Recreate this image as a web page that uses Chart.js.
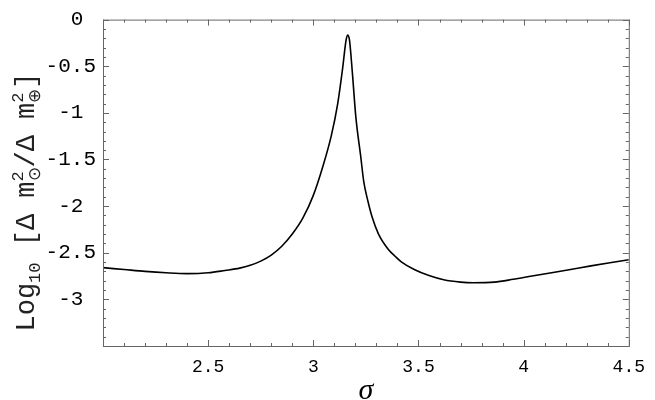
<!DOCTYPE html>
<html>
<head>
<meta charset="utf-8">
<script src="https://cdn.jsdelivr.net/npm/chart.js@4/dist/chart.umd.min.js"></script>
<style>
  html, body { margin: 0; padding: 0; background: #fff; }
  #wrap { width: 655px; height: 400px; }
</style>
</head>
<body>
<div id="wrap"><canvas id="chart" width="655" height="400"></canvas></div>
<script>
'use strict';

/* data */
const sigma = [
  2.00, 2.10, 2.20, 2.30, 2.40, 2.50, 2.58, 2.65, 2.70, 2.75,
  2.80, 2.85, 2.90, 2.95, 3.00, 3.046, 3.085, 3.116, 3.140, 3.155,
  3.163, 3.172, 3.186, 3.202, 3.225, 3.240, 3.260, 3.280, 3.310, 3.357,
  3.390, 3.420, 3.480, 3.550, 3.620, 3.700, 3.760, 3.860, 3.950, 4.040,
  4.140, 4.230, 4.320, 4.410, 4.500
];
const logRatio = [
  -2.66, -2.68, -2.70, -2.715, -2.724, -2.715, -2.69, -2.665, -2.635, -2.59,
  -2.525, -2.43, -2.30, -2.13, -1.885, -1.57, -1.25, -0.90, -0.51, -0.23,
  -0.166, -0.22, -0.58, -1.04, -1.46, -1.74, -1.95, -2.12, -2.30, -2.465,
  -2.54, -2.60, -2.68, -2.745, -2.79, -2.815, -2.822, -2.815, -2.785, -2.75,
  -2.712, -2.677, -2.641, -2.607, -2.575
];
const xTickValues = [2.5, 3, 3.5, 4, 4.5];
const xTickLabels = ['2.5', '3', '3.5', '4', '4.5'];
const yTickValues = [0, -0.5, -1, -1.5, -2, -2.5, -3];
const yTickLabels = ['0 ', '-0.5', '-1 ', '-1.5', '-2 ', '-2.5', '-3 '];

const points = sigma.map((s, i) => ({ x: s, y: logRatio[i] }));

// frame with inside ticks on all four sides
const framePlugin = {
  id: 'frame',
  afterDraw(chart) {
    const { ctx, chartArea: a, scales } = chart;
    const xs = scales.x;
    const ys = scales.y;
    ctx.save();
    ctx.strokeStyle = '#666';
    ctx.lineWidth = 1;
    ctx.strokeRect(a.left + 0.5, a.top + 0.5, a.right - a.left, a.bottom - a.top);
    ctx.beginPath();
    for (let i = 20; i <= 45; i++) {
      const px = Math.round(xs.getPixelForValue(i / 10)) + 0.5;
      const len = i % 5 === 0 ? 6 : 3;
      ctx.moveTo(px, a.bottom);
      ctx.lineTo(px, a.bottom - len);
      ctx.moveTo(px, a.top);
      ctx.lineTo(px, a.top + len);
    }
    for (let i = 0; i <= 35; i++) {
      const py = Math.round(ys.getPixelForValue(-i / 10)) + 0.5;
      const len = i % 5 === 0 ? 6 : 3;
      ctx.moveTo(a.left, py);
      ctx.lineTo(a.left + len, py);
      ctx.moveTo(a.right, py);
      ctx.lineTo(a.right - len, py);
    }
    ctx.stroke();

    // x axis title
    ctx.fillStyle = '#000';
    ctx.font = 'italic 30px "Liberation Serif"';
    ctx.textAlign = 'center';
    ctx.textBaseline = 'alphabetic';
    ctx.fillText('σ', (a.left + a.right) / 2, 399);

    // y axis title, with sub- and superscripts
    ctx.fillStyle = '#222';
    const big = '27px "Liberation Mono"';
    const small = '17px "Liberation Mono"';
    const parts = [
      { t: 'Log', f: big },
      { t: '10', f: small, dy: 6 },
      { t: ' [', f: big },
      { t: 'Δ m', f: big },
      { t: '⊙', f: small, dy: 6, up: '2' },
      { t: '/', f: big },
      { t: 'Δ m', f: big },
      { t: '⊕', f: small, dy: 6, up: '2' },
      { t: ']', f: big }
    ];
    let total = 0;
    parts.forEach((p) => {
      ctx.font = p.f;
      p.w = ctx.measureText(p.t).width;
      if (p.up) p.w = Math.max(p.w, ctx.measureText(p.up).width);
      total += p.w;
    });
    ctx.translate(34, 202);
    ctx.rotate(-Math.PI / 2);
    ctx.textAlign = 'left';
    let cx = -total / 2;
    parts.forEach((p) => {
      ctx.font = p.f;
      ctx.fillText(p.t, cx, p.dy || 0);
      if (p.up) ctx.fillText(p.up, cx, -11);
      cx += p.w;
    });
    ctx.restore();
  }
};

new Chart(document.getElementById('chart'), {
  type: 'line',
  data: {
    datasets: [{
      data: points,
      borderColor: '#000',
      borderWidth: 1.6,
      pointRadius: 0,
      fill: false,
      cubicInterpolationMode: 'monotone'
    }]
  },
  options: {
    responsive: false,
    devicePixelRatio: 1,
    animation: false,
    layout: { padding: { left: 0, right: 17, top: 15, bottom: 0 } },
    plugins: { legend: { display: false }, tooltip: { enabled: false } },
    scales: {
      x: {
        type: 'linear',
        min: 2,
        max: 4.5,
        grid: { display: false, drawTicks: false },
        border: { display: false },
        afterBuildTicks: (scale) => { scale.ticks = xTickValues.map((v) => ({ value: v })); },
        afterFit: (scale) => { scale.height = 54; },
        ticks: {
          color: '#000',
          font: { family: 'Liberation Mono', size: 18 },
          padding: 10,
          maxRotation: 0,
          autoSkip: false,
          callback: (v) => xTickLabels[xTickValues.indexOf(v)]
        }
      },
      y: {
        type: 'linear',
        min: -3.5,
        max: 0,
        grid: { display: false, drawTicks: false },
        border: { display: false },
        afterBuildTicks: (scale) => { scale.ticks = yTickValues.map((v) => ({ value: v })); },
        afterFit: (scale) => { scale.width = 103; },
        ticks: {
          color: '#000',
          font: { family: 'Liberation Mono', size: 21 },
          padding: 7,
          autoSkip: false,
          callback: (v) => yTickLabels[yTickValues.indexOf(v)]
        }
      }
    }
  },
  plugins: [framePlugin]
});
</script>
</body>
</html>
